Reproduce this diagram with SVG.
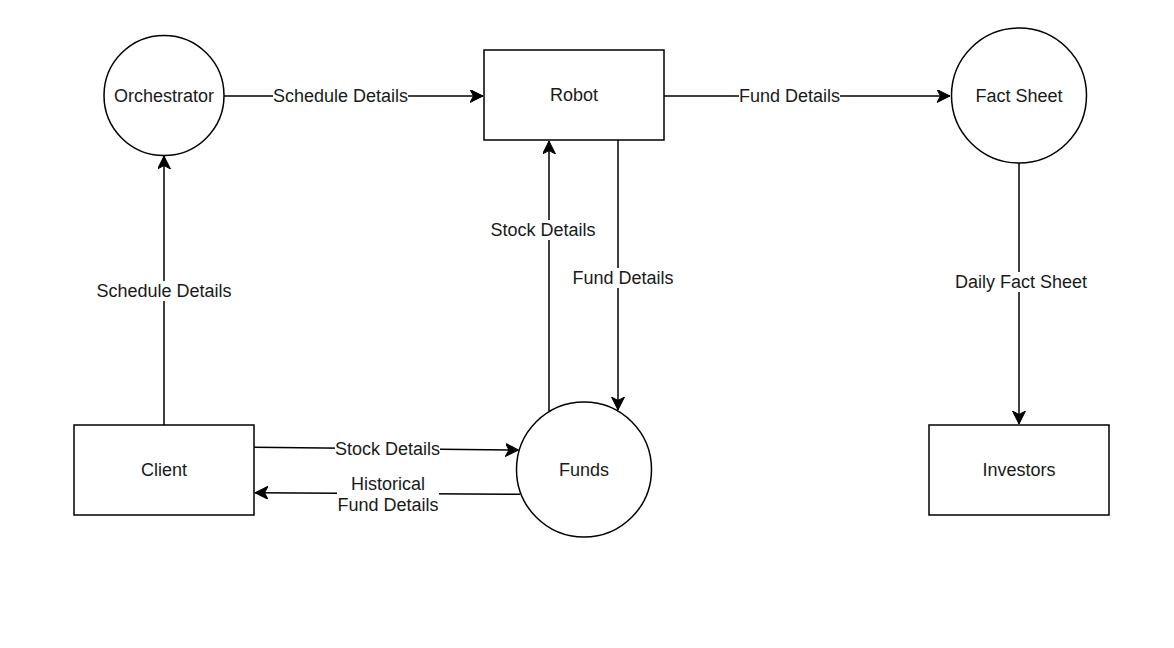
<svg xmlns="http://www.w3.org/2000/svg" width="1174" height="648" viewBox="0 0 1174 648">
<style>
.n{fill:#fff;stroke:#000;stroke-width:1.5}
.e{fill:none;stroke:#000;stroke-width:1.5}
.t{font-family:"Liberation Sans",Arial,sans-serif;font-size:18px;fill:#1a1a1a;text-anchor:middle}
.bg{fill:#fff}
</style>
<defs>
<marker id="arr" markerUnits="userSpaceOnUse" markerWidth="16" markerHeight="14" refX="13" refY="6.5" orient="auto" viewBox="0 0 16 14">
<path d="M0,0 L13,6.5 L0,13 L3.5,6.5 Z" fill="#000" stroke="#000" stroke-width="1"/>
</marker>
</defs>
<rect width="1174" height="648" fill="#fff"/>
<g id="connectors">
<g id="e1"><path class="e" d="M224,96 L483,96" marker-end="url(#arr)"/><rect class="bg" x="273" y="86" width="135" height="20"/><text class="t" x="340.5" y="102">Schedule Details</text></g>
<g id="e2"><path class="e" d="M664,96 L950,96" marker-end="url(#arr)"/><rect class="bg" x="739" y="86" width="101" height="20"/><text class="t" x="789.5" y="102">Fund Details</text></g>
<g id="e3"><path class="e" d="M164,425 L164,156" marker-end="url(#arr)"/><rect class="bg" x="96" y="281" width="136" height="20"/><text class="t" x="164" y="297">Schedule Details</text></g>
<g id="e4"><path class="e" d="M549,411 L549,141" marker-end="url(#arr)"/><rect class="bg" x="490" y="220" width="106" height="20"/><text class="t" x="543" y="236">Stock Details</text></g>
<g id="e5"><path class="e" d="M618,140 L618,410" marker-end="url(#arr)"/><rect class="bg" x="572" y="268" width="102" height="20"/><text class="t" x="623" y="284">Fund Details</text></g>
<g id="e6"><path class="e" d="M1019,163 L1019,424" marker-end="url(#arr)"/><rect class="bg" x="955" y="272" width="133" height="20"/><text class="t" x="1021" y="288">Daily Fact Sheet</text></g>
<g id="e7"><path class="e" d="M254,447.3 L518.5,450" marker-end="url(#arr)"/><rect class="bg" x="335" y="439" width="105" height="20"/><text class="t" x="387.5" y="455">Stock Details</text></g>
<g id="e8"><path class="e" d="M520,494.3 L255,492.7" marker-end="url(#arr)"/><rect class="bg" x="337" y="473" width="102" height="42"/><text class="t" x="388" y="490">Historical</text><text class="t" x="388" y="511">Fund Details</text></g>
</g>
<g id="orchestrator"><circle class="n" cx="164" cy="95.5" r="60"/><text class="t" x="164" y="102">Orchestrator</text></g>
<g id="robot"><rect class="n" x="484" y="50" width="180" height="90"/><text class="t" x="574" y="101">Robot</text></g>
<g id="factsheet"><circle class="n" cx="1019" cy="95.5" r="67.5"/><text class="t" x="1019" y="102">Fact Sheet</text></g>
<g id="client"><rect class="n" x="74" y="425" width="180" height="90"/><text class="t" x="164" y="476">Client</text></g>
<g id="funds"><circle class="n" cx="584" cy="469.5" r="67.5"/><text class="t" x="584" y="476">Funds</text></g>
<g id="investors"><rect class="n" x="929" y="425" width="180" height="90"/><text class="t" x="1019" y="476">Investors</text></g>
</svg>
